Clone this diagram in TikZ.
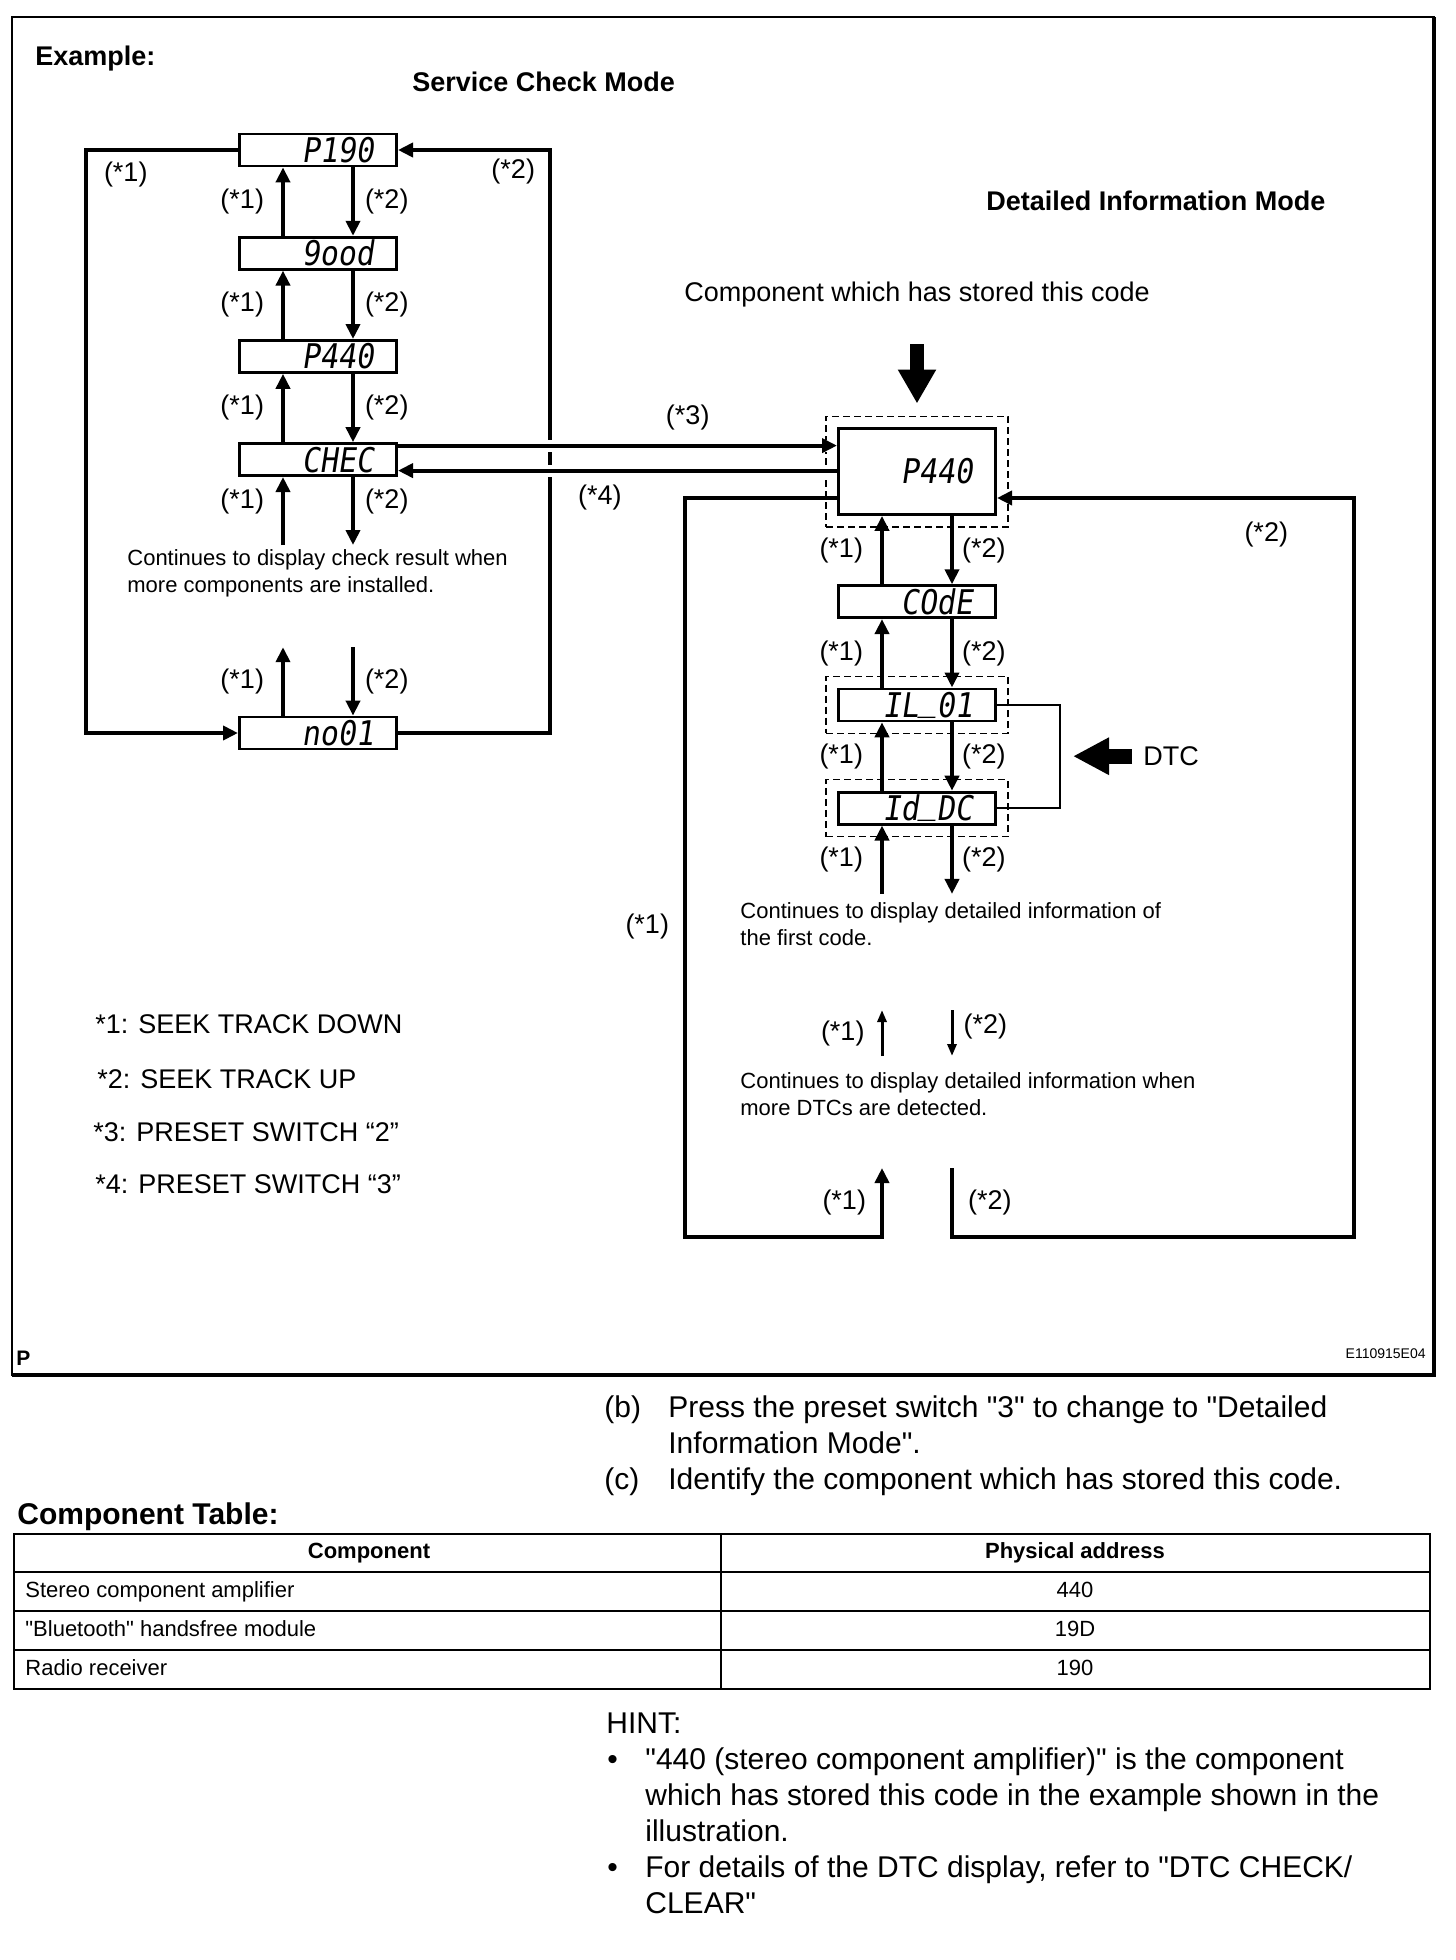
\documentclass[tikz,border=0pt]{standalone}
\usepackage{fontspec}
\setmainfont[Ligatures=TeXOff]{Liberation Sans}
\newfontfamily\lcdfont[FakeSlant=0.15,FakeStretch=0.88]{DejaVu Sans Mono}
\usetikzlibrary{arrows.meta,positioning,fit}

\begin{document}
\begin{tikzpicture}[
  x=0.5pt, y=-0.5pt,
  node distance=34.2pt,
  lcd/.style={draw, line width=1.4pt, minimum width=78.6pt, minimum height=16pt,
    inner xsep=11.5pt, inner ysep=0pt, text width=55.6pt, align=right,
    text height=12.4pt, text depth=0pt, font=\lcdfont\fontsize{17}{17}\selectfont},
  lcdbig/.style={lcd, minimum height=43pt},
  dashbox/.style={draw, dash pattern=on 3.5pt off 2pt, line width=0.6pt, inner sep=5.5pt},
  lbl/.style={inner sep=0pt, font=\fontsize{13.5}{16}\selectfont},
  head/.style={lbl, font=\bfseries\fontsize{13.5}{16}\selectfont},
  note/.style={inner sep=0pt, align=left, font=\fontsize{11}{13.5}\selectfont},
  body/.style={inner sep=0pt, align=left, font=\fontsize{15}{18}\selectfont},
  cell/.style={inner sep=0pt, font=\fontsize{11}{13}\selectfont},
  cellhead/.style={cell, font=\bfseries\fontsize{11}{13}\selectfont},
  arr/.style={-{Triangle[width=7pt,length=7.5pt]}, line width=2pt},
  thinarr/.style={-{Triangle[width=4.5pt,length=6pt]}, line width=1.5pt},
  halo/.style={preaction={draw=white, line width=6pt, -}},
  bigarr/.style={-{Triangle[width=18pt,length=17pt]}, line width=7pt},
  dtcarr/.style={-{Triangle[width=17.5pt,length=18pt]}, line width=7.5pt},
  brk/.style={line width=0.8pt}
]
  \useasboundingbox (0,0) rectangle (1456,1960);

  % frame
  \draw[line width=1.1pt] (12,17) rectangle (1434,1375);
  \draw[line width=1.8pt] (12,1375) -- (1434,1375) -- (1434,17);
  \node[inner sep=0pt, anchor=base west, font=\bfseries\fontsize{10.5}{12}\selectfont] (pmark) at (16,1365) {P};
  \node[inner sep=0pt, anchor=base east, font=\fontsize{7}{8}\selectfont] (figid) at (1426,1358) {E110915E04};

  % titles
  \node[head, anchor=base west] (example) at (35,65) {Example:};
  \node[head, anchor=base west] (sctitle) at (412,91) {Service Check Mode};
  \node[head, anchor=base west] (dititle) at (986,210) {Detailed Information Mode};
  \node[lbl, anchor=base west] (comp) at (684,301) {Component which has stored this code};

  % service check mode
  \node[lcd] (p190) at (318,150) {P190};
  \node[lcd, below=of p190] (good) {9ood};
  \node[lcd, below=of good] (p440s) {P440};
  \node[lcd, below=of p440s] (chec) {CHEC};
  \node[lcd] (no01) at (318,733) {no01};
  \node[note, anchor=north west] (scnote) at (127,549) {Continues to display check result when\\more components are installed.};

  \coordinate (scdown1) at ([xshift=-17.5pt,yshift=-34pt]chec.south);
  \coordinate (scdown2) at ([xshift=17.5pt,yshift=-34pt]chec.south);
  \coordinate (scup1) at ([xshift=-17.5pt,yshift=34.2pt]no01.north);
  \coordinate (scup2) at ([xshift=17.5pt,yshift=34.2pt]no01.north);

  \draw[arr] ([xshift=-17.5pt]good.north) -- node[lbl, left=8.5pt] {(*1)} ([xshift=-17.5pt]p190.south);
  \draw[arr] ([xshift=17.5pt]p190.south) -- node[lbl, right=5pt] {(*2)} ([xshift=17.5pt]good.north);
  \draw[arr] ([xshift=-17.5pt]p440s.north) -- node[lbl, left=8.5pt] {(*1)} ([xshift=-17.5pt]good.south);
  \draw[arr] ([xshift=17.5pt]good.south) -- node[lbl, right=5pt] {(*2)} ([xshift=17.5pt]p440s.north);
  \draw[arr] ([xshift=-17.5pt]chec.north) -- node[lbl, left=8.5pt] {(*1)} ([xshift=-17.5pt]p440s.south);
  \draw[arr] ([xshift=17.5pt]p440s.south) -- node[lbl, right=5pt] {(*2)} ([xshift=17.5pt]chec.north);
  \draw[arr] (scdown1) -- node[lbl, pos=0.64, left=8.5pt] {(*1)} ([xshift=-17.5pt]chec.south);
  \draw[arr] ([xshift=17.5pt]chec.south) -- node[lbl, pos=0.36, right=5pt] {(*2)} (scdown2);
  \draw[arr] ([xshift=-17.5pt]no01.north) -- node[lbl, left=8.5pt] {(*1)} (scup1);
  \draw[arr] (scup2) -- node[lbl, right=5pt] {(*2)} ([xshift=17.5pt]no01.north);

  \draw[arr] (p190.west) -- ++(-152,0) node[lbl, anchor=north west, xshift=8pt, yshift=-5pt] {(*1)} |- (no01.west);
  \draw[arr] (no01.east) -- ++(152,0) |- node[lbl, pos=0.5, anchor=north east, xshift=-6.5pt, yshift=-3.6pt] {(*2)} (p190.east);

  % detailed information mode
  \node[lcdbig] (p440d) at (917,471.5) {P440};
  \node[lcd, below=of p440d] (code) {COdE};
  \node[lcd, below=of code] (il) {IL\raisebox{3.5pt}{\_}01};
  \node[lcd, below=of il] (idc) {Id\raisebox{3.5pt}{\_}DC};
  \node[dashbox, fit=(p440d)] (p440box) {};
  \node[dashbox, fit=(il)] (ilbox) {};
  \node[dashbox, fit=(idc)] (idcbox) {};

  \coordinate (compstart) at (917,344);
  \draw[bigarr, shorten >=6pt] (compstart) -- (p440box.north);

  \draw[brk] (il.east) -- ++(63,0) coordinate (brkcorner) |- (idc.east);
  \node[lbl, anchor=base west] (dtc) at (1143,765.5) {DTC};
  \draw[dtcarr, shorten <=5.5pt, shorten >=6.5pt] (dtc.west) -- (dtc.west -| brkcorner);

  \draw[arr] ([xshift=-17.5pt]code.north) -- node[lbl, left=8.5pt] {(*1)} ([xshift=-17.5pt]p440d.south);
  \draw[arr] ([xshift=17.5pt]p440d.south) -- node[lbl, right=4pt] {(*2)} ([xshift=17.5pt]code.north);
  \draw[arr] ([xshift=-17.5pt]il.north) -- node[lbl, left=8.5pt] {(*1)} ([xshift=-17.5pt]code.south);
  \draw[arr] ([xshift=17.5pt]code.south) -- node[lbl, right=4pt] {(*2)} ([xshift=17.5pt]il.north);
  \draw[arr] ([xshift=-17.5pt]idc.north) -- node[lbl, left=8.5pt] {(*1)} ([xshift=-17.5pt]il.south);
  \draw[arr] ([xshift=17.5pt]il.south) -- node[lbl, right=4pt] {(*2)} ([xshift=17.5pt]idc.north);

  \coordinate (didown1) at ([xshift=-17.5pt,yshift=-34.2pt]idc.south);
  \coordinate (didown2) at ([xshift=17.5pt,yshift=-34.2pt]idc.south);
  \draw[arr] (didown1) -- node[lbl, left=8.5pt] {(*1)} ([xshift=-17.5pt]idc.south);
  \draw[arr] ([xshift=17.5pt]idc.south) -- node[lbl, right=4pt] {(*2)} (didown2);

  \node[note, anchor=north west] (dinote1) at (740,902) {Continues to display detailed information of\\the first code.};
  \node[note, anchor=north west] (dinote2) at (740,1072) {Continues to display detailed information when\\more DTCs are detected.};

  \coordinate (dmup1) at (882,1056);
  \coordinate (dmup2) at (882,1010);
  \coordinate (dmdn1) at (952,1010);
  \coordinate (dmdn2) at (952,1056);
  \draw[thinarr] (dmup1) -- node[lbl, left=8pt] {(*1)} (dmup2);
  \draw[thinarr] (dmdn1) -- node[lbl, pos=0.35, right=5pt] {(*2)} (dmdn2);

  \coordinate (dlend) at (882,1168);
  \coordinate (drstart) at (952,1168);
  \draw[arr] ([yshift=-13.25pt]p440d.west) -- ++(-152,0) |- node[lbl, pos=0.29, left=7pt] {(*1)} ([yshift=-34.5pt]dlend) -- node[lbl, left=7pt] {(*1)} (dlend);
  \draw[arr] (drstart) -- node[lbl, right=7pt] {(*2)} ([yshift=-34.5pt]drstart) -- ++(402,0) |- node[lbl, pos=0.5, anchor=north east, xshift=-32pt, yshift=-11pt] {(*2)} ([yshift=-13.25pt]p440d.east);

  % mode change
  \draw[arr, halo] ([yshift=7pt]chec.east) -- node[lbl, pos=0.66, above=7pt] {(*3)} ([yshift=7pt]chec.east -| p440d.west);
  \draw[arr, halo] ([yshift=-5.5pt]chec.east -| p440d.west) -- node[lbl, pos=0.54, below=6pt] {(*4)} ([yshift=-5.5pt]chec.east);

  % key
  \node[lbl, anchor=base west] (key1) at (95,1033) {*1: SEEK TRACK DOWN};
  \node[lbl, anchor=base west] (key2) at (97,1088) {*2: SEEK TRACK UP};
  \node[lbl, anchor=base west] (key3) at (93,1141) {*3: PRESET SWITCH “2”};
  \node[lbl, anchor=base west] (key4) at (95,1193) {*4: PRESET SWITCH “3”};

  % text below the figure
  \node[body, anchor=base west] (stepb) at (604,1417) {(b)};
  \node[body, anchor=north west] (stepbtext) at (668,1395) {Press the preset switch "3" to change to "Detailed\\Information Mode".};
  \node[body, anchor=base west] (stepc) at (604,1489) {(c)};
  \node[body, anchor=base west] (stepctext) at (668,1489) {Identify the component which has stored this code.};
  \node[body, anchor=base west, font=\bfseries\fontsize{15}{18}\selectfont] (tabletitle) at (17,1524.5) {Component Table:};

  % component table
  \draw[line width=1.3pt] (14,1534) rectangle (1430,1689);
  \draw[line width=0.7pt] (14,1572) -- (1430,1572) (14,1611) -- (1430,1611) (14,1650) -- (1430,1650) (721,1534) -- (721,1689);
  \node[cellhead, anchor=base] (thcomp) at (369,1558) {Component};
  \node[cellhead, anchor=base] (thaddr) at (1075,1558) {Physical address};
  \node[cell, anchor=base west] (r1comp) at (25,1597.5) {Stereo component amplifier};
  \node[cell, anchor=base] (r1addr) at (1075,1597.5) {440};
  \node[cell, anchor=base west] (r2comp) at (25,1636.5) {"Bluetooth" handsfree module};
  \node[cell, anchor=base] (r2addr) at (1075,1636.5) {19D};
  \node[cell, anchor=base west] (r3comp) at (25,1675.5) {Radio receiver};
  \node[cell, anchor=base] (r3addr) at (1075,1675.5) {190};

  % hint
  \node[body, anchor=base west] (hint) at (606,1733) {HINT:};
  \node[body, anchor=base west] (bul1) at (607,1769) {•};
  \node[body, anchor=north west] (hint1) at (645,1747.5) {"440 (stereo component amplifier)" is the component\\which has stored this code in the example shown in the\\illustration.};
  \node[body, anchor=base west] (bul2) at (607,1877) {•};
  \node[body, anchor=north west] (hint2) at (645,1855.5) {For details of the DTC display, refer to "DTC CHECK/\\CLEAR"};
\end{tikzpicture}
\end{document}
